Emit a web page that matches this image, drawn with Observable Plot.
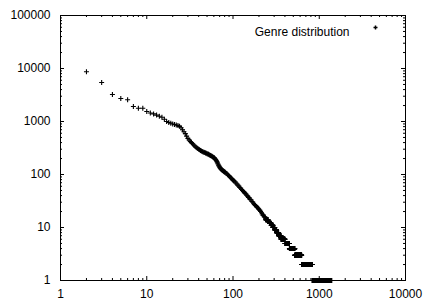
<!DOCTYPE html>
<html><head><meta charset="utf-8">
<script src="https://cdn.jsdelivr.net/npm/d3@7"></script>
<script src="https://cdn.jsdelivr.net/npm/@observablehq/plot@0.6"></script>
<style>html,body{margin:0;padding:0;background:#fff;}</style>
</head><body><div id="chart"></div>
<script>
// Head of the rank-frequency distribution (rank, count)
const headRanks = [2,3,4,5,6,7,8,9,10,11,12,13,14,15,16,17,18,19,20,21,22,23,24,25,26,27,28,29,30,
  31,32,33,34,35,36,37,38,39,40,41,42,43,44,45,46,47,48,49,50,51,52,53,54,55,56,57,58,59,60,
  61,62,63,64,65,66,67,68,69,70,71,72,73,74,75,76,77,78,79,80,81,83,85,87,89,91,93,95,97,99,
  101,103,106,108,111,114,117,120,123,126,129,132,135,138,141,144,148,151,155,158,162,166,170,
  174,178,182,187,191,196,200,205,209,214,218,222,226,230,234,238];
const headCounts = [8700,5450,3230,2720,2570,1920,1780,1780,1540,1450,1390,1320,1260,1200,1100,1000,960,930,900,880,860,840,810,760,700,640,590,530,480,
  450,420,400,380,360,345,330,320,310,300,292,285,278,272,267,263,259,255,251,247,243,240,236,232,228,224,220,216,212,209,
  204,198,191,184,175,166,158,150,144,138,133,129,126,123,121,119,117,115,113,112,110,106,103,99,96,92,89,86,83,80,
  77,75,72,69,66,63,60,57,55,52,50,48,46,44,43,41,39,37,36,34,33,31,30,
  28,27,26,25,24,23,22,21,20,19,18,17,17,16,16,15];
// Tail: plateaus of equal counts (count, first rank, last rank)
const runCounts = [14,13,12,11,10,9,8,7,6,5,4,3,2,1];
const runFirst  = [240,256,266,277,291,306,321,339,361,401,451,521,626,831];
const runLast   = [255,265,276,290,305,320,338,360,400,450,520,625,830,1390];
const xTicks = [1,10,100,1000,10000];
const yTicks = [1,10,100,1000,10000,100000];
const seriesLabel = "Genre distribution";

const data = headRanks.map((r,i)=>({rank:r,count:headCounts[i]}));
runCounts.forEach((c,i)=>{ for(let r=runFirst[i]; r<=runLast[i]; r++) data.push({rank:r,count:c}); });

const minor = ticks => ticks.slice(0,-1).flatMap(t => [2,3,4,5,6,7,8,9].map(m=>t*m));
const plusSymbol = { draw(ctx, size){ const r = Math.sqrt(size/Math.PI); ctx.moveTo(-r,0); ctx.lineTo(r,0); ctx.moveTo(0,-r); ctx.lineTo(0,r);} };

const W=425,H=302,mL=60,mR=20,mT=15,mB=22;
const pw=W-mL-mR, ph=H-mT-mB;
const chart = Plot.plot({
  width:W, height:H, marginLeft:mL, marginRight:mR, marginTop:mT, marginBottom:mB,
  style:{fontFamily:"'Liberation Sans', Arial, sans-serif", fontSize:"12px", color:"#000", background:"#fff"},
  x:{type:"log", domain:[1,10000]},
  y:{type:"log", domain:[1,100000]},
  marks:[
    Plot.tickX(xTicks,{x:d=>d, insetTop:ph-4, stroke:"#000"}),
    Plot.tickX(xTicks,{x:d=>d, insetBottom:ph-4, stroke:"#000"}),
    Plot.tickX(minor(xTicks),{x:d=>d, insetTop:ph-2, stroke:"#000"}),
    Plot.tickX(minor(xTicks),{x:d=>d, insetBottom:ph-2, stroke:"#000"}),
    Plot.tickY(yTicks,{y:d=>d, insetRight:pw-4, stroke:"#000"}),
    Plot.tickY(yTicks,{y:d=>d, insetLeft:pw-4, stroke:"#000"}),
    Plot.tickY(minor(yTicks),{y:d=>d, insetRight:pw-2, stroke:"#000"}),
    Plot.tickY(minor(yTicks),{y:d=>d, insetLeft:pw-2, stroke:"#000"}),
    Plot.axisX(xTicks,{tickSize:0, tickPadding:9, tickFormat:d=>String(d), label:null}),
    Plot.axisY(yTicks,{tickSize:0, tickPadding:10, tickFormat:d=>String(d), label:null}),
    Plot.dot(data,{x:"rank", y:"count", symbol:plusSymbol, r:2.5, stroke:"#000", strokeWidth:1.1, fill:"none"}),
    Plot.frame({stroke:"#000"}),
    Plot.text([seriesLabel],{text:d=>d, frameAnchor:"top-right", dx:-56, dy:12, textAnchor:"end", fill:"#000"}),
    Plot.dot([seriesLabel],{frameAnchor:"top-right", dx:-30, dy:12, symbol:plusSymbol, r:2, stroke:"#000", fill:"none"})
  ]
});
document.getElementById("chart").appendChild(chart);
</script>
</body></html>
